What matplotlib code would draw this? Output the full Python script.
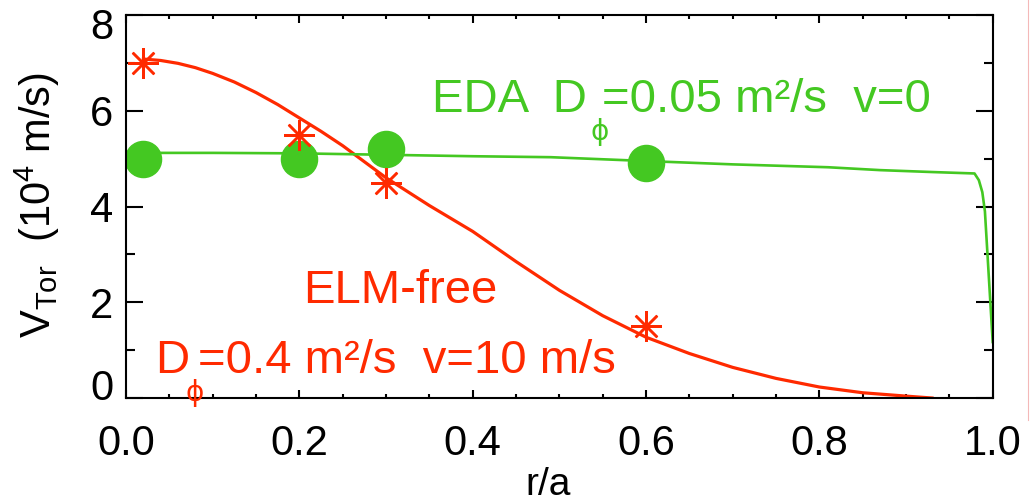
import matplotlib
matplotlib.use("Agg")
import matplotlib.pyplot as plt
from matplotlib.lines import Line2D
from matplotlib.transforms import ScaledTranslation

plt.rcParams['font.family'] = ['Liberation Sans', 'DejaVu Sans']
plt.rcParams['mathtext.fontset'] = 'custom'
plt.rcParams['mathtext.rm'] = 'Liberation Sans'
plt.rcParams['mathtext.it'] = 'Liberation Sans:italic'

RED = '#ff2a00'
GREEN = '#44c822'

# measured points
r_meas = [0.02, 0.2, 0.3, 0.6]
v_elm_meas = [7.0, 5.5, 4.5, 1.5]
v_eda_meas = [5.0, 5.0, 5.2, 4.9]

# ELM-free model curve (D=0.4, v=10)
r_elm = [0.02, 0.04, 0.06, 0.08, 0.1, 0.125, 0.15, 0.175, 0.2, 0.225, 0.25,
         0.3, 0.35, 0.4, 0.45, 0.5, 0.55, 0.6, 0.65, 0.7, 0.75, 0.8, 0.85,
         0.9, 0.93]
v_elm = [7.08, 7.05, 6.99, 6.90, 6.78, 6.60, 6.38, 6.13, 5.85, 5.57, 5.27,
         4.60, 4.02, 3.48, 2.85, 2.25, 1.72, 1.27, 0.93, 0.64, 0.41, 0.23,
         0.11, 0.04, 0.0]

# EDA model curve (D=0.05, v=0)
r_eda = [0.02, 0.1, 0.2, 0.3, 0.4, 0.49, 0.6, 0.7, 0.81, 0.87, 0.93,
         0.979, 0.984, 0.988, 0.991, 1.0]
v_eda = [5.12, 5.12, 5.11, 5.08, 5.05, 5.03, 4.95, 4.88, 4.82, 4.76, 4.72,
         4.69, 4.55, 4.3, 3.9, 1.17]

fig = plt.figure(figsize=(10.33, 5.03), dpi=100)
ax = fig.add_axes([0.122, 0.2087, 0.839, 0.7615])

ax.plot(r_elm, v_elm, color=RED, lw=2.3)
ax.plot(r_eda, v_eda, color=GREEN, lw=1.9)
ax.plot(r_meas, v_eda_meas, 'o', color=GREEN, ms=26, mec=GREEN)
ax.plot(r_meas, v_elm_meas, linestyle='none', marker=(8, 2, 0), color=RED,
        ms=22, mew=1.8)

ax.set_xlim(0, 1.0)
ax.set_ylim(0, 8)
ax.set_xticks([0, 0.2, 0.4, 0.6, 0.8, 1.0])
ax.set_xticklabels(['0.0', '0.2', '0.4', '0.6', '0.8', '1.0'])
ax.set_xticks([0.05 * i for i in range(21)], minor=True)
ax.set_yticks([0, 2, 4, 6, 8])
ax.set_yticks([1, 3, 5, 7], minor=True)

ax.tick_params(axis='both', which='both', direction='in', top=True,
               right=True, width=1.5, labelsize=30)
ax.tick_params(axis='x', which='major', length=6, pad=19)
ax.tick_params(axis='x', which='minor', length=3)
ax.tick_params(axis='y', which='major', length=12.5, pad=9)
ax.tick_params(axis='y', which='minor', length=6.5)
for s in ax.spines.values():
    s.set_linewidth(1.5)

# nudge end labels to sit inside the frame like the original
ylabs = ax.get_yticklabels()
ylabs[-1].set_transform(ylabs[-1].get_transform() +
                        ScaledTranslation(0, -6 / 72, fig.dpi_scale_trans))
ylabs[0].set_transform(ylabs[0].get_transform() +
                       ScaledTranslation(0, 10 / 72, fig.dpi_scale_trans))

# annotations
ax.text(0.353, 5.97, 'EDA  D', color=GREEN, fontsize=34, va='baseline')
ax.text(0.546, 5.55, '\u03d5', color=GREEN, fontsize=20, ha='center',
        va='center', family='DejaVu Sans')
ax.text(0.549, 5.97, '=0.05 m\u00b2/s  v=0', color=GREEN, fontsize=34,
        va='baseline')

ax.text(0.204, 1.98, 'ELM-free', color=RED, fontsize=34, va='baseline')
ax.text(0.0335, 0.52, 'D', color=RED, fontsize=34, va='baseline')
ax.text(0.0796, 0.1, '\u03d5', color=RED, fontsize=20, ha='center',
        va='center', family='DejaVu Sans', clip_on=False)
ax.text(0.083, 0.52, '=0.4 m\u00b2/s  v=10 m/s', color=RED, fontsize=34,
        va='baseline')

fig.text(37 / 1033, 1 - 205 / 503, r'V$_{\mathrm{Tor}}$  (10$^{4}$ m/s)',
         rotation=90, ha='center', va='center', fontsize=30)
fig.text(548 / 1033, 1 - 485 / 503, 'r/a', ha='center', va='center',
         fontsize=28)

fig.add_artist(Line2D([1028 / 1033, 1028 / 1033], [1 - 420 / 503, 1.0],
                      color='#f4b8b8', lw=0.8))

fig.savefig('out.png', dpi=100)
